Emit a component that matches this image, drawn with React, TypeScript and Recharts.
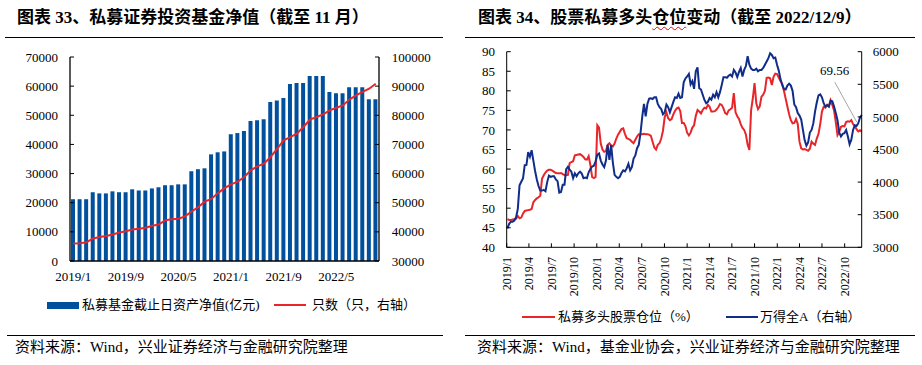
import React from "react"
import { ComposedChart, LineChart, Bar, Line, XAxis, YAxis, ReferenceLine } from "recharts"

// 图表33：私募证券投资基金净值（月度）
const months = [
  "2019/1", "2019/2", "2019/3", "2019/4", "2019/5", "2019/6", "2019/7", "2019/8", "2019/9", "2019/10", "2019/11", "2019/12",
  "2020/1", "2020/2", "2020/3", "2020/4", "2020/5", "2020/6", "2020/7", "2020/8", "2020/9", "2020/10", "2020/11", "2020/12",
  "2021/1", "2021/2", "2021/3", "2021/4", "2021/5", "2021/6", "2021/7", "2021/8", "2021/9", "2021/10", "2021/11", "2021/12",
  "2022/1", "2022/2", "2022/3", "2022/4", "2022/5", "2022/6", "2022/7", "2022/8", "2022/9", "2022/10", "2022/11",
]
const navValues = [
  21200, 21200, 21200, 23600, 23200, 23200, 23900, 23600, 23600, 24600, 24200, 24200,
  24900, 25300, 26000, 26000, 26300, 26300, 30800, 31500, 31800, 36600, 37300, 37600,
  43500, 43900, 44600, 48000, 48300, 48600, 54600, 55100, 55900, 60700, 61100, 61100,
  63500, 63500, 63500, 58000, 57600, 57600, 59600, 59600, 59600, 55500, 55500,
]
const fundCounts = [
  36000, 36100, 36400, 37700, 38200, 38600, 39100, 39800, 40200, 40800, 41100, 41400,
  42100, 42500, 44000, 44300, 44500, 45300, 47000, 48500, 50400, 51300, 53300, 55000,
  56300, 57200, 58800, 61100, 62500, 63400, 65700, 68500, 71400, 72500, 73700, 76000,
  78500, 79400, 80300, 81700, 82600, 83400, 85400, 86800, 88000, 89100, 90800,
]
const leftTicks = [0, 10000, 20000, 30000, 40000, 50000, 60000, 70000]
const rightTicks = [30000, 40000, 50000, 60000, 70000, 80000, 90000, 100000]

// 图表34：股票私募多头仓位（周度，2019/1/4 起至 2022/12/9）
const firstWeek = Date.UTC(2019, 0, 4)
const positionPct = [
  47.2, 47.0, 47.0, 47.1, 47.2, 47.3, 48.0, 47.4, 47.6, 48.6,
  49.3, 49.4, 49.5, 49.6, 49.8, 51.5, 52.1, 52.5, 52.8, 53.2,
  57.5, 58.4, 59.1, 59.6, 59.8, 59.8, 59.6, 59.3, 59.0, 58.9,
  58.9, 59.0, 58.7, 58.5, 58.4, 58.5, 61.5, 61.8, 62.0, 63.5,
  63.6, 63.7, 63.8, 63.5, 63.1, 62.5, 62.4, 63.3, 61.0, 58.0,
  57.7, 58.0, 71.2, 70.6, 66.5, 65.0, 64.4, 64.6, 66.2, 66.6,
  66.0, 65.8, 66.5, 67.8, 68.8, 69.5, 70.2, 70.4, 69.0, 67.9,
  67.7, 67.5, 67.0, 66.6, 67.5, 68.3, 68.9, 68.9, 68.9, 69.0,
  68.9, 68.9, 68.8, 68.5, 67.0, 65.5, 65.0, 66.2, 66.6, 67.8,
  69.8, 73.3, 74.5, 73.0, 72.5, 72.8, 74.0, 74.9, 75.5, 75.7,
  74.8, 71.8, 71.8, 71.0, 69.3, 68.6, 69.3, 70.6, 71.2, 73.6,
  75.1, 74.7, 74.2, 75.1, 75.7, 75.5, 76.4, 75.9, 74.7, 74.7,
  74.8, 75.2, 75.8, 76.6, 76.4, 75.5, 74.3, 74.0, 75.0, 75.3,
  75.7, 79.4, 74.5, 73.5, 72.8, 71.5, 70.5, 70.0, 68.8, 66.2,
  64.9, 75.0, 78.1, 82.0, 76.8, 75.3, 76.0, 78.5, 79.0, 80.0,
  83.3, 83.4, 83.2, 81.5, 83.6, 84.4, 84.3, 83.4, 82.5, 81.8,
  80.0, 78.0, 76.0, 74.0, 72.5, 71.7, 71.8, 72.8, 71.5, 67.0,
  65.3, 65.0, 65.1, 64.9, 64.7, 65.2, 67.0, 66.5, 66.2, 67.8,
  69.0, 71.5, 74.7, 75.9, 75.7, 76.4, 76.0, 77.6, 76.4, 75.0,
  72.0, 68.7, 69.5, 70.8, 71.0, 70.9, 72.0, 72.2, 72.1, 72.5,
  71.5, 71.0, 70.2, 69.6, 69.9, 69.56,
]
const windA = [
  3290, 3360, 3393, 3393, 3410, 3460, 3590, 3950, 4005, 4055,
  4260, 4263, 4460, 4390, 4490, 4330, 4170, 4040, 3940, 3870,
  3870, 3880, 3860, 4000, 4100, 4080, 4090, 4090, 4040, 4015,
  3840, 3850, 3960, 3960, 4200, 4235, 4190, 4160, 4060, 4135,
  4090, 4135, 4160, 4130, 4060, 4070, 4060, 4150, 4200, 4240,
  4250, 4320, 4420, 4440, 4330, 4270, 4230, 4330, 4570, 4340,
  4570, 4300, 4110, 4080, 4060, 4080, 4140, 4180, 4165, 4210,
  4280, 4180, 4230, 4360, 4410, 4520, 4570, 4750, 5000, 5200,
  5010, 5200, 5280, 5285, 5275, 5300, 5300, 5200, 5150, 5120,
  5040, 5070, 5190, 5150, 5070, 5150, 5230, 5300, 5290, 5355,
  5290, 5300, 5530, 5590, 5620, 5660, 5500, 5550, 5430, 5700,
  5760, 5440, 5420, 5340, 5260, 5210, 5230, 5290, 5265, 5340,
  5300, 5380, 5300, 5380, 5490, 5610, 5610, 5600, 5630, 5650,
  5620, 5720, 5680, 5610, 5690, 5750, 5620, 5720, 5780, 5930,
  5800, 5740, 5720, 5720, 5740, 5700, 5720, 5720, 5750, 5800,
  5850, 5900, 5976, 5950, 5900, 5910, 5800, 5710, 5580, 5490,
  5430, 5420, 5480, 5510, 5480, 5400, 5190, 5150, 5060, 5020,
  4960, 4800, 4640, 4560, 4610, 4760, 4800, 4900, 5080, 5220,
  5330, 5345, 5300, 5210, 5160, 5180, 5160, 5250, 5240, 5160,
  5060, 4950, 4760, 4700, 4740, 4750, 4800, 4700, 4580, 4650,
  4800, 4870, 4860, 4900, 4990, 5030,
]
const quarterLabels = [
  "2019/1", "2019/4", "2019/7", "2019/10", "2020/1", "2020/4", "2020/7", "2020/10",
  "2021/1", "2021/4", "2021/7", "2021/10", "2022/1", "2022/4", "2022/7", "2022/10",
]
const posTicks = [40, 45, 50, 55, 60, 65, 70, 75, 80, 85, 90]
const windTicks = [3000, 3500, 4000, 4500, 5000, 5500, 6000]

const DAY = 86400000
const labelToTime = (s: string) => {
  const [y, m] = s.split("/").map(Number)
  return Date.UTC(y, m - 1, 1)
}
const quarterTimes = quarterLabels.map(labelToTime)
const timeToLabel = (t: number) => {
  const d = new Date(t)
  return `${d.getUTCFullYear()}/${d.getUTCMonth() + 1}`
}

const navData = months.map((m, i) => ({ month: m, nav: navValues[i], count: fundCounts[i] }))
const weeklyData = positionPct.map((p, i) => ({ t: firstWeek + i * 7 * DAY, pos: p, wind: windA[i] }))

const SERIF = '"Liberation Serif", "Times New Roman", serif'
const MIXED = '"Liberation Serif", "Noto Sans CJK SC", sans-serif'
const BAR_BLUE = "#00509e"
const RED = "#e8262a"
const NAVY = "#102d8a"
const tickStyle = { fontSize: 13, fill: "#000", fontFamily: SERIF }

const Txt = ({ x, y, size, bold, children }: any) => (
  <div
    style={{
      position: "absolute",
      left: x,
      top: y - size,
      lineHeight: `${size * 2}px`,
      fontSize: size,
      fontWeight: bold ? 700 : 400,
      fontFamily: MIXED,
      color: "#000",
      whiteSpace: "nowrap",
    }}
  >
    {children}
  </div>
)

const Rule = ({ x1, x2, y }: any) => (
  <div style={{ position: "absolute", left: x1, top: y, width: x2 - x1, height: 1, background: "#000" }} />
)

const RotatedTick = (props: any) => {
  const { x, y, payload } = props
  return (
    <text
      x={x}
      y={y}
      transform={`rotate(-90 ${x} ${y})`}
      textAnchor="end"
      dy="0.35em"
      fontSize={12}
      fontFamily={SERIF}
      fill="#000"
    >
      {timeToLabel(payload.value)}
    </text>
  )
}

export default function App() {
  return (
    <div style={{ position: "absolute", left: 0, top: 0, width: 922, height: 365, background: "#fff", overflow: "hidden" }}>
      {/* 左图 */}
      <Txt x={17} y={17.5} size={17} bold>
        图表 33、私募证券投资基金净值（截至 11 月）
      </Txt>
      <Rule x1={5} x2={443} y={37} />
      <div style={{ position: "absolute", left: 0, top: 0 }}>
        <ComposedChart width={460} height={290} data={navData} margin={{ top: 57, right: 0, bottom: 0, left: 0 }}>
          <XAxis
            dataKey="month"
            interval={7}
            tickLine={false}
            tickSize={0}
            tickMargin={11}
            height={29}
            axisLine={{ stroke: "#000", strokeWidth: 1.3 }}
            tick={tickStyle}
          />
          <YAxis
            yAxisId="left"
            orientation="left"
            width={70}
            domain={[0, 70000]}
            ticks={leftTicks}
            interval={0}
            tickSize={-4}
            tickMargin={16}
            axisLine={{ stroke: "#000", strokeWidth: 1.3 }}
            tickLine={{ stroke: "#000" }}
            tick={tickStyle}
          />
          <YAxis
            yAxisId="right"
            orientation="right"
            width={81}
            domain={[30000, 100000]}
            ticks={rightTicks}
            interval={0}
            tickSize={-4}
            tickMargin={16.7}
            axisLine={{ stroke: "#000", strokeWidth: 1.3 }}
            tickLine={{ stroke: "#000" }}
            tick={tickStyle}
          />
          <Bar yAxisId="left" dataKey="nav" fill={BAR_BLUE} barSize={4} isAnimationActive={false} />
          <Line yAxisId="right" dataKey="count" stroke={RED} strokeWidth={2} dot={false} type="linear" isAnimationActive={false} />
        </ComposedChart>
      </div>
      <div style={{ position: "absolute", left: 47, top: 302, width: 32, height: 7, background: BAR_BLUE }} />
      <Txt x={82} y={305} size={13}>私募基金截止日资产净值(亿元)</Txt>
      <div style={{ position: "absolute", left: 274, top: 304, width: 32, height: 2, background: RED }} />
      <Txt x={312} y={305} size={13}>只数（只，右轴）</Txt>
      <Rule x1={7} x2={443} y={335} />
      <Txt x={15} y={347} size={15}>资料来源：Wind，兴业证券经济与金融研究院整理</Txt>

      {/* 右图 */}
      <Txt x={478} y={17.5} size={17} bold>
        图表 34、股票私募多头
        <span style={{ textDecoration: "underline wavy red", textDecorationThickness: 1, textUnderlineOffset: 3 }}>仓位</span>
        变动（截至 2022/12/9）
      </Txt>
      <Rule x1={465} x2={915} y={37} />
      <div style={{ position: "absolute", left: 460, top: 0 }}>
        <LineChart width={462} height={310} data={weeklyData} margin={{ top: 51.7, right: 0, bottom: 0, left: 0 }}>
          <XAxis
            dataKey="t"
            type="number"
            domain={[Date.UTC(2019, 0, 1), Date.UTC(2022, 11, 9)]}
            ticks={quarterTimes}
            interval={0}
            height={62.7}
            tickSize={-4}
            tickMargin={13.7}
            axisLine={{ stroke: "#000" }}
            tickLine={{ stroke: "#000" }}
            tick={<RotatedTick />}
          />
          <YAxis
            yAxisId="left"
            orientation="left"
            width={46.7}
            domain={[40, 90]}
            ticks={posTicks}
            interval={0}
            tickSize={-4}
            tickMargin={15.7}
            axisLine={{ stroke: "#000" }}
            tickLine={{ stroke: "#000" }}
            tick={tickStyle}
          />
          <YAxis
            yAxisId="right"
            orientation="right"
            width={60.3}
            domain={[3000, 6000]}
            ticks={windTicks}
            interval={0}
            tickSize={-4}
            tickMargin={15}
            axisLine={{ stroke: "#000" }}
            tickLine={{ stroke: "#000" }}
            tick={tickStyle}
          />
          <Line yAxisId="left" dataKey="pos" stroke={RED} strokeWidth={2} dot={false} type="linear" isAnimationActive={false} />
          <Line yAxisId="right" dataKey="wind" stroke={NAVY} strokeWidth={2} dot={false} type="linear" isAnimationActive={false} />
          <ReferenceLine
            yAxisId="left"
            segment={[
              { x: Date.UTC(2022, 7, 22), y: 82.2 },
              { x: Date.UTC(2022, 10, 19), y: 72.0 },
            ]}
            stroke="#a6a6a6"
            strokeWidth={1}
            ifOverflow="visible"
          />
        </LineChart>
      </div>
      <Txt x={820} y={71} size={13}>69.56</Txt>
      <div style={{ position: "absolute", left: 522, top: 316, width: 33, height: 2, background: RED }} />
      <Txt x={558} y={317} size={13}>私募多头股票仓位（%）</Txt>
      <div style={{ position: "absolute", left: 726, top: 316, width: 32, height: 2, background: NAVY }} />
      <Txt x={760} y={317} size={13}>万得全A（右轴）</Txt>
      <Rule x1={465} x2={915} y={335} />
      <Txt x={477} y={347} size={15}>资料来源：Wind，基金业协会，兴业证券经济与金融研究院整理</Txt>
    </div>
  )
}
